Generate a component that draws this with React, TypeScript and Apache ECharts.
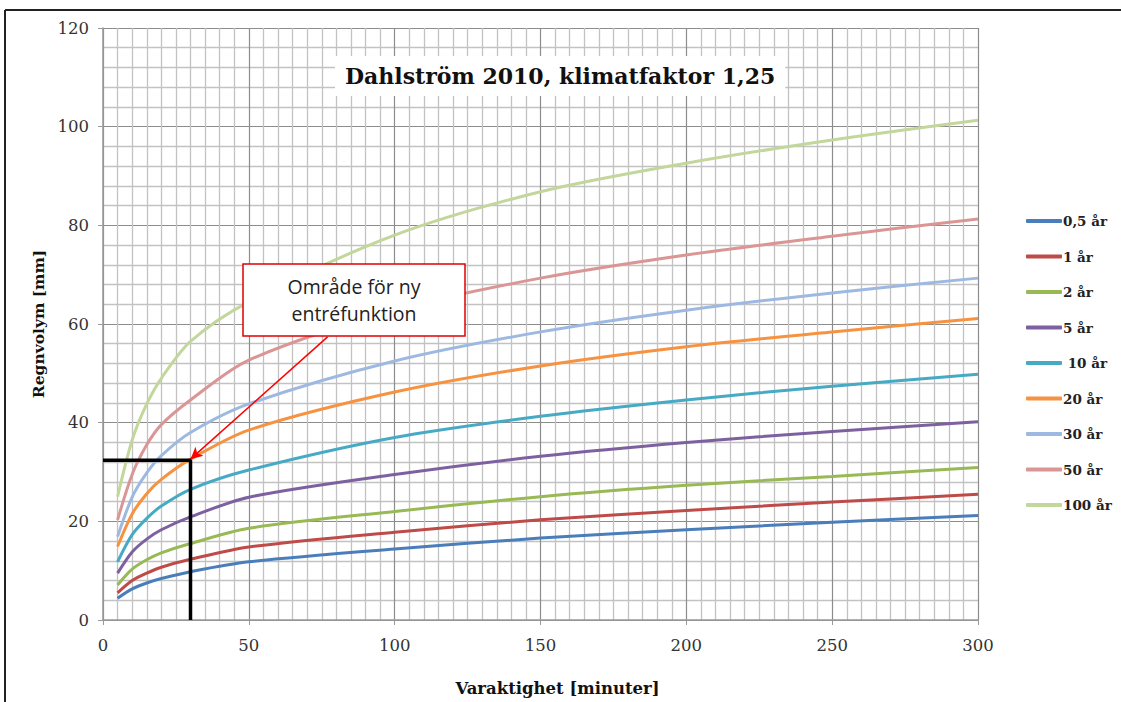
import React, { useEffect, useRef } from "react";
import * as echarts from "echarts";

const durations = [5, 10, 15, 20, 30, 50, 100, 150, 200, 250, 300];

const seriesNames = ["0,5 år", "1 år", "2 år", "5 år", " 10 år", "20 år", "30 år", "50 år", "100 år"];
const seriesColors = ["#4A7EBB", "#BE4B48", "#98B954", "#7D60A0", "#46AAC5", "#F69240", "#9DB9E1", "#DA9694", "#C3D69B"];

const v05 = [4.4, 6.3, 7.5, 8.4, 9.8, 11.8, 14.4, 16.6, 18.3, 19.8, 21.2];
const v1 = [5.5, 8.0, 9.5, 10.7, 12.3, 14.8, 17.8, 20.3, 22.2, 23.9, 25.5];
const v2 = [7.1, 10.3, 12.2, 13.6, 15.5, 18.6, 22.0, 25.0, 27.3, 29.1, 30.9];
const v5 = [9.5, 13.8, 16.4, 18.3, 20.9, 24.9, 29.5, 33.2, 36.0, 38.2, 40.2];
const v10 = [11.8, 17.3, 20.6, 23.1, 26.5, 30.4, 37.0, 41.3, 44.6, 47.4, 49.8];
const v20 = [14.9, 21.5, 25.6, 28.5, 32.6, 38.5, 46.2, 51.5, 55.4, 58.4, 61.1];
const v30 = [16.9, 24.9, 29.8, 33.3, 38.0, 43.8, 52.5, 58.4, 62.8, 66.3, 69.3];
const v50 = [20.3, 29.5, 35.5, 39.6, 44.6, 52.7, 62.8, 69.3, 74.0, 77.8, 81.3];
const v100 = [25.0, 36.5, 43.8, 49.0, 56.5, 64.5, 78.0, 86.8, 92.6, 97.3, 101.3];
const allValues = [v05, v1, v2, v5, v10, v20, v30, v50, v100];

// Guide lines marking the chosen point (duration 30 min, 32.4 mm)
const guideX = [0, 30, 30];
const guideY = [32.4, 32.4, 0];
// Arrow from the annotation box down to the guide point
const arrowFrom = [77, 57.4];
const arrowTo = [30, 32.6];

const titleText = "Dahlström 2010, klimatfaktor 1,25";
const xName = "Varaktighet [minuter]";
const yName = "Regnvolym [mm]";
const noteText = "Område för ny\nentréfunktion";

const serif = "DejaVu Serif";

export default function App() {
  const ref = useRef<HTMLDivElement>(null);
  useEffect(() => {
    if (!ref.current) return;
    const chart = echarts.init(ref.current, null, { renderer: "svg" });
    const series: any[] = allValues.map((vals, i) => ({
      name: seriesNames[i],
      type: "line",
      data: durations.map((d, j) => [d, vals[j]]),
      smooth: 0.3,
      showSymbol: false,
      symbol: "none",
      lineStyle: { width: 3, color: seriesColors[i] },
      itemStyle: { color: seriesColors[i] },
      z: 3,
    }));
    series.push({
      name: "guide",
      type: "line",
      data: guideX.map((x, i) => [x, guideY[i]]),
      symbol: "none",
      lineStyle: { width: 3.5, color: "#000" },
      z: 5,
      markLine: {
        silent: true,
        symbol: ["none", "arrow"],
        symbolSize: [9, 12],
        label: { show: false },
        lineStyle: { color: "#ff0000", width: 1.5, type: "solid" },
        data: [[{ coord: arrowFrom }, { coord: arrowTo }]],
      },
    });
    chart.setOption({
      animation: false,
      backgroundColor: "#fff",
      title: {
        text: titleText,
        left: 335,
        top: 56,
        padding: [9, 10, 9, 10],
        backgroundColor: "#fff",
        textStyle: { fontFamily: serif, fontWeight: "bold", fontSize: 22, color: "#111" },
      },
      grid: { left: 103, right: 143, top: 28, bottom: 82, containLabel: false },
      legend: {
        data: seriesNames,
        orient: "vertical",
        left: 1021,
        top: 208,
        itemWidth: 36,
        itemHeight: 4,
        itemGap: 19.5,
        icon: "roundRect",
        textStyle: { fontFamily: serif, fontWeight: "bold", fontSize: 13.5, color: "#222", lineHeight: 16, padding: [0, 0, 0, -4] },
      },
      xAxis: {
        type: "value",
        min: 0,
        max: 300,
        interval: 50,
        name: xName,
        nameLocation: "middle",
        nameGap: 60,
        nameTextStyle: { fontFamily: serif, fontWeight: "bold", fontSize: 16.5, color: "#111", padding: [0, 0, 0, 34] },
        axisLine: { show: true, lineStyle: { color: "#999", width: 1.5 } },
        axisTick: { show: true, length: 5, lineStyle: { color: "#999" } },
        axisLabel: { margin: 17, fontFamily: serif, fontSize: 16.5, color: "#333" },
        splitLine: { show: true, lineStyle: { color: "#8c8c8c", width: 1.2 } },
        minorTick: { show: false, splitNumber: 10 },
        minorSplitLine: { show: true, lineStyle: { color: "#c2c2c2", width: 1.3 } },
      },
      yAxis: {
        type: "value",
        min: 0,
        max: 120,
        interval: 20,
        name: yName,
        nameLocation: "middle",
        nameGap: 55,
        nameTextStyle: { fontFamily: serif, fontWeight: "bold", fontSize: 15.5, color: "#111" },
        axisLine: { show: true, lineStyle: { color: "#999", width: 1.5 } },
        axisTick: { show: true, length: 5, lineStyle: { color: "#999" } },
        axisLabel: { margin: 14, fontFamily: serif, fontSize: 16.5, color: "#333" },
        splitLine: { show: true, lineStyle: { color: "#8c8c8c", width: 1.2 } },
        minorTick: { show: false, splitNumber: 5 },
        minorSplitLine: { show: true, lineStyle: { color: "#c2c2c2", width: 1.3 } },
      },
      graphic: [
        { type: "line", z: 100, shape: { x1: 5, y1: 10, x2: 1121, y2: 10 }, style: { stroke: "#222", lineWidth: 2 } },
        { type: "line", z: 100, shape: { x1: 5, y1: 10, x2: 5, y2: 702 }, style: { stroke: "#222", lineWidth: 2 } },
        {
          type: "rect",
          z: 100,
          shape: { x: 243, y: 264, width: 222, height: 72 },
          style: { fill: "#fff", stroke: "#e00000", lineWidth: 1.5 },
        },
        {
          type: "text",
          z: 101,
          x: 354,
          y: 300,
          style: {
            text: noteText,
            align: "center",
            verticalAlign: "middle",
            fontFamily: "Open Sans",
            fontSize: 19.5,
            lineHeight: 27,
            fill: "#222",
          },
        },
      ],
      series,
    });
    return () => chart.dispose();
  }, []);
  return <div ref={ref} style={{ position: "fixed", left: 0, top: 0, width: 1121, height: 702 }} />;
}
